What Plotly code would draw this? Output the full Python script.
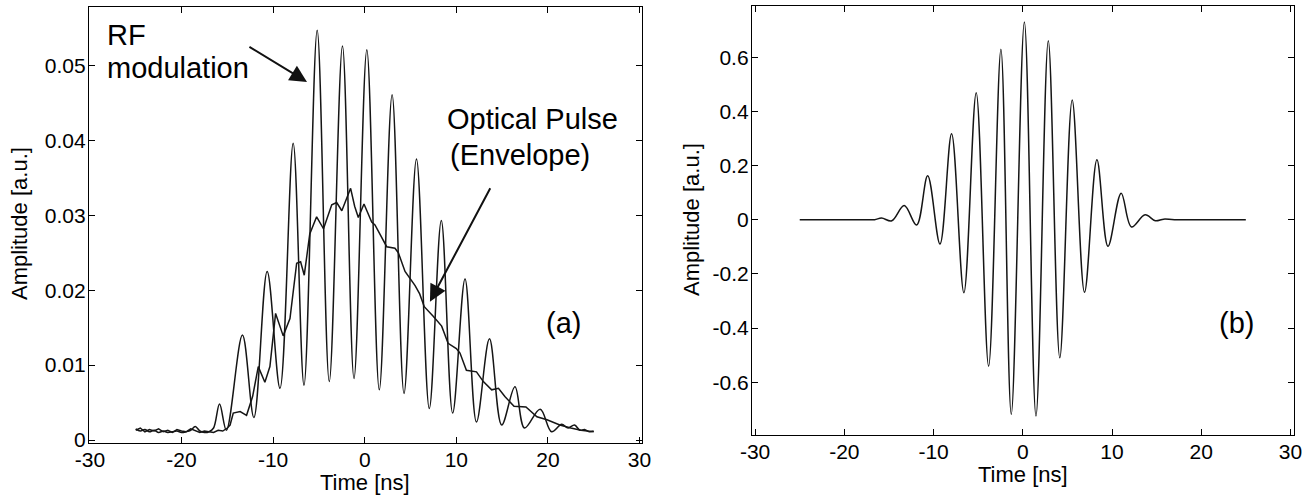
import plotly.graph_objects as go

# ---------------- data ----------------
# panel (a): RF modulation trace (time in ns, amplitude a.u.)
rf_t = [-25.0, -24.5, -24.0, -23.5, -23.0, -22.5, -22.0, -21.5, -21.0, -20.5,
        -20.0, -19.5, -19.0, -18.5, -18.0, -17.5, -17.0, -16.5, -15.85, -15.1,
        -13.35, -12.1, -10.65, -9.25, -7.81, -6.63, -5.19, -3.87, -2.43, -1.17,
        0.23, 1.59, 2.99, 4.29, 5.65, 7.05, 8.36, 9.6, 10.95, 12.2,
        13.62, 14.95, 16.4, 17.45, 19.15, 20.4, 21.5, 22.2, 22.9, 23.5,
        24.0, 24.5, 25.0]
rf_v = [0.0015, 0.0012, 0.0014, 0.0011, 0.0013, 0.0010, 0.0012, 0.0010, 0.0011, 0.0012,
        0.0010, 0.0011, 0.0013, 0.0018, 0.0012, 0.0010, 0.0011, 0.0016, 0.0048, 0.0013,
        0.0140, 0.0030, 0.0225, 0.0069, 0.0396, 0.0073, 0.0547, 0.0078, 0.0526, 0.0082,
        0.0521, 0.0067, 0.0461, 0.0062, 0.0375, 0.0042, 0.0293, 0.0036, 0.0215, 0.0024,
        0.0135, 0.0020, 0.0071, 0.0016, 0.0041, 0.0011, 0.0021, 0.0016, 0.0020, 0.0013,
        0.0014, 0.0011, 0.0012]

# panel (a): optical pulse envelope
env_t = [-25.0, -24.5, -24.0, -23.5, -23.0, -22.5, -22.0, -21.5, -21.0, -20.5,
         -20.0, -19.5, -19.0, -18.5, -18.0, -17.5, -17.0, -16.5, -16.0, -15.5,
         -15.0, -14.7, -14.35, -13.6, -12.9, -12.24, -11.62, -10.9, -10.35, -9.73,
         -8.9, -8.16, -7.43, -7.0, -6.6, -6.0, -5.25, -4.5, -3.6, -3.06,
         -2.5, -1.8, -1.54, -1.1, -0.7, -0.08, 0.4, 0.76, 1.12, 1.67,
         2.4, 3.3, 3.67, 4.4, 5.0, 5.5, 6.0, 6.5, 7.5, 8.4,
         9.1, 10.0, 10.4, 11.1, 12.2, 12.95, 13.86, 14.6, 15.3, 16.3,
         17.6, 18.8, 19.9, 21.3, 22.5, 23.6, 25.0]
env_v = [0.0013, 0.0016, 0.0011, 0.0014, 0.0012, 0.0015, 0.0011, 0.0013, 0.0010, 0.0014,
         0.0012, 0.0011, 0.0015, 0.0012, 0.0010, 0.0012, 0.0011, 0.0010, 0.0013, 0.0012,
         0.0016, 0.0020, 0.0036, 0.0038, 0.0033, 0.0058, 0.0098, 0.0077, 0.0098, 0.0169,
         0.0139, 0.0162, 0.0236, 0.0238, 0.0220, 0.0275, 0.0298, 0.0282, 0.0314, 0.0317,
         0.0306, 0.0329, 0.0336, 0.0312, 0.0297, 0.0315, 0.0300, 0.0291, 0.0287, 0.0274,
         0.0258, 0.0256, 0.0250, 0.0225, 0.0215, 0.0206, 0.0195, 0.0178, 0.0165, 0.0152,
         0.0129, 0.0122, 0.0116, 0.0093, 0.0091, 0.0078, 0.0067, 0.0069, 0.0058, 0.0045,
         0.0044, 0.0031, 0.0027, 0.0020, 0.0016, 0.0013, 0.0011]

# panel (b): simulated RF-modulated pulse
b_t = [-25.0, -17.5, -16.6, -15.83, -14.68, -13.29, -11.9, -10.66, -9.28, -7.98,
       -6.6, -5.22, -3.83, -2.45, -1.29, 0.18, 1.48, 2.86, 4.15, 5.54,
       6.92, 8.31, 9.55, 11.03, 12.18, 13.71, 14.86, 15.8, 17.0, 25.0]
b_v = [0.0, 0.0, 0.0, 0.006, -0.004, 0.052, -0.020, 0.162, -0.090, 0.317,
       -0.270, 0.469, -0.541, 0.629, -0.719, 0.730, -0.725, 0.661, -0.510, 0.442,
       -0.268, 0.221, -0.098, 0.098, -0.027, 0.018, -0.004, 0.002, 0.0, 0.0]

# tick values / labels
x_ticks = [-30, -20, -10, 0, 10, 20, 30]
x_labels = ["-30", "-20", "-10", "0", "10", "20", "30"]
ya_ticks = [0, 0.01, 0.02, 0.03, 0.04, 0.05]
ya_labels = ["0", "0.01", "0.02", "0.03", "0.04", "0.05"]
yb_ticks = [-0.6, -0.4, -0.2, 0, 0.2, 0.4, 0.6]
yb_labels = ["-0.6", "-0.4", "-0.2", "0", "0.2", "0.4", "0.6"]

# ---------------- figure ----------------
W, H = 1306, 497
FONT = "Liberation Sans, Arial, sans-serif"
LINE = "#151515"

def px(x):
    return x / W

def py(y):
    return 1 - y / H

fig = go.Figure()
fig.add_trace(go.Scatter(x=env_t, y=env_v, mode="lines", xaxis="x", yaxis="y",
                         line=dict(color=LINE, width=1.5), showlegend=False))
fig.add_trace(go.Scatter(x=rf_t, y=rf_v, mode="lines", xaxis="x", yaxis="y",
                         line=dict(color=LINE, width=1.5, shape="spline", smoothing=1.0),
                         showlegend=False))
fig.add_trace(go.Scatter(x=b_t, y=b_v, mode="lines", xaxis="x2", yaxis="y2",
                         line=dict(color=LINE, width=1.5, shape="spline", smoothing=1.0),
                         showlegend=False))

axis_common = dict(showline=True, linecolor="black", linewidth=1.3, mirror="ticks",
                   ticks="inside", ticklen=6, tickwidth=1.1, tickcolor="black",
                   showgrid=False, zeroline=False, automargin=False,
                   tickfont=dict(family=FONT, size=21, color="black"))

fig.update_layout(
    template="none",
    width=W, height=H, autosize=False,
    margin=dict(l=0, r=0, t=0, b=0, pad=0),
    paper_bgcolor="white", plot_bgcolor="white",
    font=dict(family=FONT, color="black"),
    xaxis=dict(domain=[px(89), px(642)], range=[-30.1, 30.27],
               tickvals=x_ticks, ticktext=x_labels, anchor="y",
               ticklabelstandoff=-2, **axis_common),
    yaxis=dict(domain=[py(443), py(7)], range=[-0.0004, 0.0578],
               tickvals=ya_ticks, ticktext=ya_labels, anchor="x",
               ticklabelstandoff=-2, **axis_common),
    xaxis2=dict(domain=[px(752), px(1294)], range=[-30.35, 30.4],
                tickvals=x_ticks, ticktext=x_labels, anchor="y2",
                ticklabelstandoff=-2, **axis_common),
    yaxis2=dict(domain=[py(435), py(6)], range=[-0.795, 0.789],
                tickvals=yb_ticks, ticktext=yb_labels, anchor="x2",
                ticklabelstandoff=-2, **axis_common),
)

ann = []
def text(x, y, s, size, xanchor="center", yanchor="middle", angle=0):
    ann.append(dict(x=px(x), y=py(y), xref="paper", yref="paper", text=s,
                    showarrow=False, xanchor=xanchor, yanchor=yanchor, textangle=angle,
                    font=dict(family=FONT, size=size, color="black")))

# axis titles
text(365, 482, "Time [ns]", 22)
text(1023, 474, "Time [ns]", 22)
text(19, 224, "Amplitude [a.u.]", 22, angle=-90)
text(691, 220, "Amplitude [a.u.]", 22, angle=-90)
# labels in panels
text(105, 35, "RF", 29, xanchor="left")
text(105, 68, "modulation", 29, xanchor="left")
text(532, 119, "Optical Pulse", 29)
text(520, 155, "(Envelope)", 29)
text(563, 323, "(a)", 29)
text(1236, 323, "(b)", 29)

# arrows (data coordinates of panel a)
for (x0, y0, x1, y1) in [(-12.75, 0.0526, -6.3, 0.0478), (13.79, 0.0338, 7.12, 0.01846)]:
    ann.append(dict(x=x1, y=y1, ax=x0, ay=y0, xref="x", yref="y", axref="x", ayref="y",
                    text="", showarrow=True, arrowhead=2, arrowsize=1.7, arrowwidth=2,
                    arrowcolor="#111111"))

fig.update_layout(annotations=ann)
fig.write_html(
    "out.html",
    config={"displayModeBar": False},
    post_script="document.body.style.margin='0';document.body.style.padding='0';"
                "document.documentElement.style.overflow='hidden';",
)
